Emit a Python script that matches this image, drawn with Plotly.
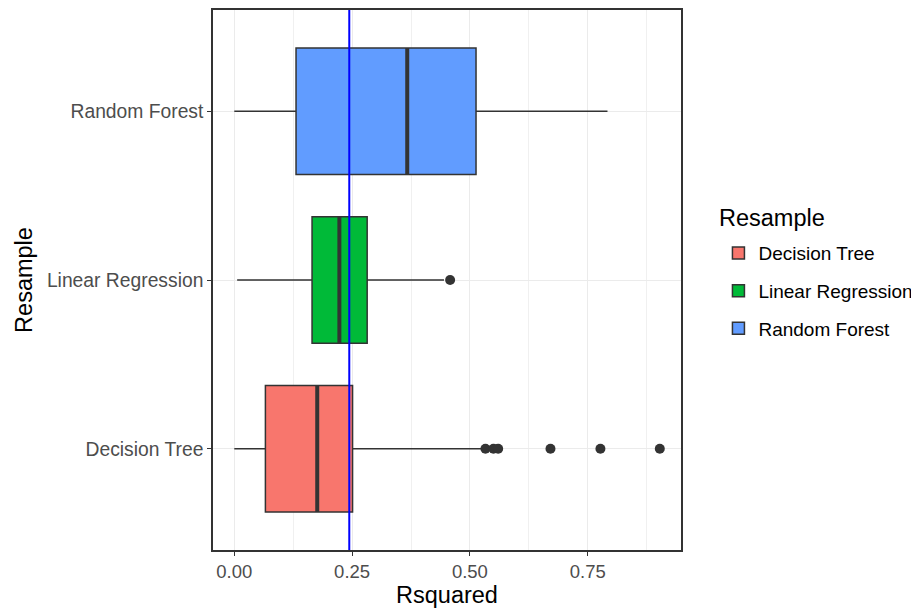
import plotly.graph_objects as go

categories = ["Decision Tree", "Linear Regression", "Random Forest"]
colors = ["#F8766D", "#00BA38", "#619CFF"]
lower_whisker = [0.0, 0.006, 0.0]
q1 = [0.066, 0.165, 0.131]
median = [0.176, 0.223, 0.367]
q3 = [0.251, 0.282, 0.513]
upper_whisker = [0.526, 0.445, 0.792]
outliers = [
    [0.533, 0.550, 0.560, 0.671, 0.777, 0.903],
    [0.458],
    [],
]
ref_line = 0.244
x_ticks = [0.0, 0.25, 0.5, 0.75]
x_ticklabels = ["0.00", "0.25", "0.50", "0.75"]

BOX_W = 0.75
EDGE = "#333333"
FONT = "Liberation Sans, Arial, sans-serif"

fig = go.Figure()
for i, cat in enumerate(categories):
    fig.add_trace(go.Box(
        y=[i], q1=[q1[i]], median=[median[i]], q3=[q3[i]],
        lowerfence=[lower_whisker[i]], upperfence=[upper_whisker[i]],
        orientation="h", width=BOX_W, name=cat, legendgroup=cat,
        fillcolor=colors[i], line=dict(color=EDGE, width=1.5),
        whiskerwidth=0, boxpoints=False, hoverinfo="skip",
    ))
for i, cat in enumerate(categories):
    fig.add_trace(go.Scatter(
        x=[median[i], median[i]], y=[i - BOX_W / 2, i + BOX_W / 2],
        mode="lines", line=dict(color=EDGE, width=4),
        showlegend=False, legendgroup=cat, hoverinfo="skip",
    ))
    if outliers[i]:
        fig.add_trace(go.Scatter(
            x=outliers[i], y=[i] * len(outliers[i]), mode="markers",
            marker=dict(color=EDGE, size=10),
            showlegend=False, legendgroup=cat, hoverinfo="skip",
        ))

fig.add_vline(x=ref_line, line=dict(color="#0000FF", width=2))

fig.add_annotation(
    text="Resample", xref="paper", yref="paper", x=1.077, y=0.614,
    xanchor="left", yanchor="middle", showarrow=False,
    font=dict(size=23.5, color="black"),
)

fig.update_layout(
    width=911, height=605,
    margin=dict(l=205, r=238, t=0, b=63),
    paper_bgcolor="white", plot_bgcolor="white",
    font=dict(family=FONT, color="black"),
    boxmode="overlay",
    legend=dict(
        font=dict(size=19, color="black"),
        x=1.080, xanchor="left", y=0.585, yanchor="top",
        tracegroupgap=10, itemclick=False,
    ),
    xaxis=dict(
        range=[-0.0452, 0.948], tickvals=x_ticks, ticktext=x_ticklabels,
        showgrid=True, gridcolor="#EBEBEB", gridwidth=1.2,
        minor=dict(dtick=0.125, tick0=0, showgrid=True, gridcolor="#F0F0F0", gridwidth=0.7),
        showline=True, mirror=True, linecolor=EDGE, linewidth=1.5,
        ticks="outside", ticklen=4, tickcolor=EDGE, tickwidth=1,
        tickfont=dict(size=18.5, color="#4D4D4D"),
        title=dict(text="Rsquared", font=dict(size=23.5, color="black"), standoff=6),
        zeroline=False,
    ),
    yaxis=dict(
        range=[-0.6, 2.6], tickvals=list(range(len(categories))), ticktext=categories,
        showgrid=True, gridcolor="#EBEBEB", gridwidth=1.2,
        showline=True, mirror=True, linecolor=EDGE, linewidth=1.5,
        ticks="outside", ticklen=4, tickcolor=EDGE, tickwidth=1,
        tickfont=dict(size=19.3, color="#4D4D4D"),
        title=dict(text="Resample", font=dict(size=23.5, color="black"), standoff=8),
        zeroline=False,
    ),
)

fig.write_html("out.html")
